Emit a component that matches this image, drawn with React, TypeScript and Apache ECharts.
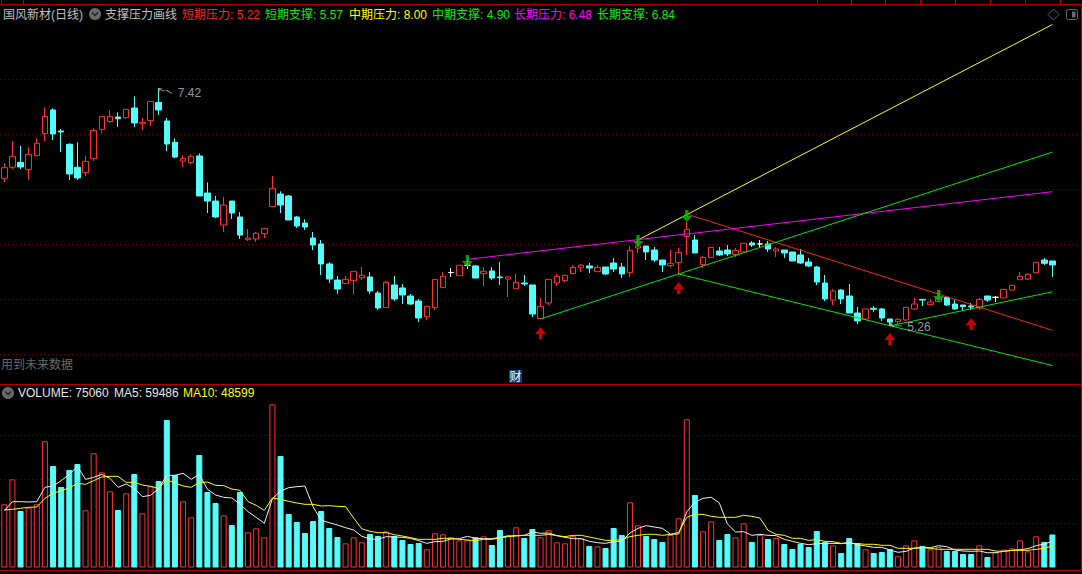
import React, { useEffect, useRef } from "react";
import * as echarts from "echarts";

const SLOT_COUNT = 133;
const categories = Array.from({ length: SLOT_COUNT }, (_, i) => String(i + 1));

const opens = [
  6.602,6.702,6.747,6.680,6.808,7.008,7.223,7.032,6.911,6.702,
  6.653,6.780,7.047,7.117,7.159,7.153,7.241,7.098,7.126,7.292,
  7.123,6.929,6.759,6.744,6.805,6.468,6.395,6.177,6.395,6.250,
  6.044,6.050,6.098,6.344,6.459,6.441,6.250,6.195,6.059,6.005,
  5.823,5.677,5.644,5.671,5.698,5.705,5.559,5.426,5.632,5.605,
  5.532,5.486,5.344,5.426,5.608,5.745,5.717,5.811,5.805,5.735,
  5.759,5.705,5.686,5.598,5.650,5.632,5.326,5.468,5.650,5.671,
  5.735,5.789,5.805,5.753,5.795,5.832,5.795,5.744,5.968,5.986,
  5.950,5.859,5.808,5.835,6.074,6.041,5.817,5.883,5.941,5.950,
  5.908,5.932,6.014,6.005,6.005,5.941,5.950,5.932,5.905,5.841,
  5.795,5.650,5.495,5.586,5.532,5.377,5.323,5.420,5.414,5.323,
  5.298,5.314,5.414,5.501,5.453,5.480,5.520,5.459,5.450,5.441,
  5.423,5.532,5.520,5.514,5.586,5.680,5.686,5.744,5.859,5.850,
];
const closes = [
  6.698,6.802,6.705,6.820,6.920,7.165,7.005,7.023,6.641,6.605,
  6.756,7.038,7.165,7.165,7.144,7.229,7.105,7.111,7.301,7.223,
  6.914,6.795,6.783,6.802,6.441,6.395,6.250,6.359,6.286,6.086,
  6.059,6.102,6.147,6.511,6.359,6.223,6.168,6.159,5.995,5.823,
  5.686,5.595,5.683,5.756,5.720,5.577,5.423,5.656,5.505,5.541,
  5.459,5.332,5.438,5.683,5.711,5.745,5.811,5.811,5.695,5.756,
  5.695,5.698,5.705,5.656,5.641,5.368,5.438,5.683,5.711,5.720,
  5.792,5.811,5.786,5.792,5.732,5.777,5.732,5.947,5.986,5.932,
  5.859,5.814,5.829,5.929,6.138,5.923,5.883,5.974,5.905,5.914,
  5.947,6.011,5.995,6.005,5.959,5.959,5.923,5.850,5.832,5.805,
  5.659,5.505,5.577,5.505,5.377,5.305,5.414,5.411,5.332,5.295,
  5.320,5.429,5.459,5.495,5.477,5.511,5.450,5.414,5.435,5.432,
  5.501,5.495,5.520,5.592,5.629,5.711,5.729,5.838,5.829,5.814,
];
const lows = [
  6.568,6.686,6.686,6.586,6.808,6.941,6.950,6.841,6.586,6.586,
  6.623,6.759,7.011,7.105,7.068,7.144,7.068,7.041,7.077,7.177,
  6.850,6.786,6.705,6.732,6.441,6.286,6.241,6.114,6.232,6.050,
  6.032,6.023,6.059,6.344,6.286,6.223,6.150,6.132,5.950,5.723,
  5.650,5.550,5.644,5.550,5.677,5.550,5.405,5.426,5.486,5.459,
  5.450,5.295,5.314,5.405,5.608,5.705,5.717,5.777,5.695,5.623,
  5.677,5.632,5.523,5.598,5.623,5.341,5.326,5.450,5.623,5.659,
  5.735,5.750,5.741,5.753,5.723,5.750,5.695,5.705,5.923,5.859,
  5.841,5.750,5.795,5.732,5.905,5.923,5.789,5.883,5.895,5.895,
  5.886,5.932,5.977,5.968,5.932,5.886,5.877,5.850,5.823,5.795,
  5.632,5.486,5.450,5.459,5.377,5.277,5.323,5.386,5.305,5.26,
  5.277,5.305,5.405,5.441,5.450,5.480,5.441,5.405,5.395,5.405,
  5.405,5.477,5.477,5.514,5.586,5.680,5.677,5.744,5.814,5.705,
];
const highs = [
  6.738,6.941,6.895,6.886,6.965,7.247,7.238,7.050,6.920,6.929,
  6.805,7.056,7.165,7.220,7.202,7.229,7.347,7.150,7.301,7.42,
  7.150,6.965,6.811,6.820,6.829,6.565,6.441,6.432,6.395,6.295,
  6.141,6.114,6.150,6.623,6.483,6.450,6.259,6.229,6.114,6.041,
  5.838,5.714,5.714,5.756,5.795,5.750,5.577,5.668,5.714,5.641,
  5.550,5.505,5.441,5.686,5.750,5.786,5.811,5.859,5.814,5.795,
  5.795,5.841,5.714,5.732,5.723,5.632,5.514,5.686,5.732,5.723,
  5.814,5.823,5.832,5.814,5.795,5.877,5.832,5.986,6.041,5.986,
  5.977,5.859,5.950,5.968,6.205,6.086,5.895,5.977,5.977,5.995,
  5.968,6.014,6.032,6.041,6.032,5.977,5.950,5.932,5.959,5.877,
  5.805,5.723,5.595,5.595,5.641,5.432,5.414,5.441,5.423,5.323,
  5.332,5.432,5.514,5.505,5.505,5.541,5.523,5.495,5.450,5.468,
  5.514,5.532,5.532,5.592,5.632,5.750,5.738,5.841,5.877,5.850,
];
const volumes = [
  143600,200400,128400,136000,143600,286800,230700,183000,221600,235200,
  129900,259500,216300,173100,130700,168600,212500,123100,184500,196600,
  335200,210200,150400,114000,255700,171600,146600,118600,96600,171600,
  79900,89000,68600,370800,253400,121600,103400,78400,105700,128400,
  89800,69300,54900,68600,57200,76100,71600,82200,71600,62500,
  53400,55700,41300,77700,75400,68600,61700,62500,68600,70800,
  51100,85200,73100,91300,67000,87500,68600,84500,57200,54900,
  71600,66300,48900,48100,44300,89800,73900,148100,95800,71600,
  64800,58000,73900,111700,336800,164800,82200,104900,62500,76100,
  68600,100400,58000,73900,64800,67000,53400,42000,53400,46600,
  83000,58000,50400,33000,67000,55700,41300,33000,35200,42000,
  25400,50400,61700,48900,41300,46600,37500,37500,30700,30700,
  50400,23900,34500,40500,43600,61700,36700,70800,58000,75060,
];
const ma5 = [
  129200,149600,149600,148900,149600,182200,185200,197400,211700,229900,
  200400,204900,211700,202700,182200,189800,179900,161000,164000,179200,
  209500,209500,214000,200400,211700,177700,164800,159500,158000,144300,
  126900,114000,100400,156400,173900,181400,183700,185200,138300,107200,
  101900,96600,90500,85200,71000,64800,64000,70100,69300,68600,
  66300,61000,54900,58700,59500,64800,65500,70800,66300,65500,
  65500,68600,71600,72400,73100,80700,77700,78400,72400,68600,
  65500,65500,59500,56400,54900,58700,59500,78400,89000,95100,
  92000,89000,75400,76100,126900,148100,157200,159500,147000,98900,
  80700,81400,73100,75400,73100,72400,64000,59500,54900,51900,
  54200,54900,54900,54200,57200,51900,48900,45800,45800,39800,
  34500,36700,44300,45100,45100,49600,47300,39800,37500,36700,
  37500,33700,33700,36700,39000,40500,42800,49600,53400,59486,
];
const ma10 = [
  130700,132200,134500,136800,137500,157200,168600,174600,180700,191300,
  189000,197400,205700,207200,207200,193600,193600,187500,184500,179900,
  199600,192000,185200,182200,192800,194300,186800,186000,178400,175400,
  149600,141300,129900,158000,154900,150400,146600,143600,143600,139800,
  140500,139000,138300,112500,88000,82200,79200,79200,74600,71600,
  67800,64000,64000,64000,66300,66300,64000,62500,61000,64000,
  64000,67000,70100,71600,73100,73100,73100,75400,72400,70100,
  73100,73100,69300,65500,61700,61700,63300,70100,73100,75400,
  75400,73100,75400,79900,114000,120800,120800,116300,114000,114000,
  114000,118600,116300,112500,84500,75400,73100,66300,66300,61700,
  63300,59500,58700,54900,54900,54200,52700,52700,50400,50400,
  43600,43600,43600,45100,43600,41300,41300,41300,41300,41300,
  41300,41300,37500,36700,39000,39000,39000,41300,43600,48599,
];

// Trend lines: [candle index, price] at each end.
const shortPressure = [[84, 6.277], [129, 5.22]];
const shortSupport = [[109, 5.26], [129, 5.57]];
const midPressure = [[78, 6.041], [129, 8.0]];
const midSupport = [[83, 5.732], [129, 4.9]];
const longPressure = [[57, 5.865], [129, 6.48]];
const longSupport = [[66, 5.323], [129, 6.84]];

const buySignals = [[66, 5.195], [83, 5.605], [109, 5.141], [119, 5.277]];
const sellSignals = [[57, 5.85], [78, 6.032], [84, 6.259], [115, 5.532]];

const headerItems = [
  { text: "国风新材(日线)", x: 3, color: "#C0C0C0" },
  { text: "支撑压力画线", x: 105, color: "#C0C0C0" },
  { text: "短期压力: 5.22", x: 182, color: "#FF2020" },
  { text: "短期支撑: 5.57", x: 265, color: "#00F000" },
  { text: "中期压力: 8.00", x: 349, color: "#FFFF00" },
  { text: "中期支撑: 4.90", x: 432, color: "#00F000" },
  { text: "长期压力: 6.48", x: 514, color: "#FF00FF" },
  { text: "长期支撑: 6.84", x: 597, color: "#00F000" },
];
const volumeHeaderItems = [
  { text: "VOLUME: 75060", x: 18, color: "#E8E8E8" },
  { text: "MA5: 59486", x: 114, color: "#E8E8E8" },
  { text: "MA10: 48599", x: 183, color: "#FFFF00" },
];
const tabTickXs = [1, 23, 817, 851, 885, 920, 955, 990, 1025, 1060];

const RED = "#FF3232";
const CYAN = "#54FCFC";
const GREEN = "#00E800";
const BORDER = "#B40000";
const FONT = '"Liberation Sans","Noto Sans CJK SC",sans-serif';

const UP_ARROW = "path://M5 0L10 7L6.5 7L6.5 12L3.5 12L3.5 7L0 7Z";
const DOWN_ARROW = "path://M3.5 0L6.5 0L6.5 6L10 6L5 12L0 6L3.5 6Z";
const HIGH_POINTER = "path://M0 0L0 4M0 0L4 0M0 0L5 3M5 2L8 2L13 5";
const LOW_POINTER = "path://M0 3L0 0L3 0M0 0L4 4M5 3L12 3";

function trendLine(name: string, data: number[][], color: string) {
  return {
    name,
    type: "line",
    data,
    xAxisIndex: 0,
    yAxisIndex: 0,
    clip: false,
    showSymbol: false,
    symbol: "none",
    z: 4,
    lineStyle: { color, width: 1 },
  };
}

function maLine(name: string, data: number[], color: string) {
  return {
    name,
    type: "line",
    data,
    xAxisIndex: 1,
    yAxisIndex: 1,
    showSymbol: false,
    symbol: "none",
    z: 4,
    lineStyle: { color, width: 1 },
  };
}

function headerText(item: { text: string; x: number; color: string }, y: number) {
  return {
    type: "text",
    x: item.x,
    y,
    z: 20,
    style: {
      text: item.text,
      fill: item.color,
      font: `12px ${FONT}`,
      textAlign: "left",
      textVerticalAlign: "middle",
    },
  };
}

function collapseBadge(cx: number, cy: number) {
  return [
    { type: "circle", z: 20, shape: { cx, cy, r: 6 }, style: { fill: "#6A6A6A" } },
    {
      type: "polyline",
      z: 21,
      shape: { points: [[cx - 3, cy - 1.5], [cx, cy + 1.5], [cx + 3, cy - 1.5]] },
      style: { stroke: "#222222", lineWidth: 1.5, fill: "none" },
    },
  ];
}

function redLine(x1: number, y1: number, x2: number, y2: number) {
  return {
    type: "line",
    z: 10,
    shape: { x1, y1, x2, y2 },
    style: { stroke: BORDER, lineWidth: 1 },
  };
}

export default function App() {
  const ref = useRef<HTMLDivElement>(null);

  useEffect(() => {
    document.body.style.margin = "0";
    document.body.style.background = "#000";
    const chart = echarts.init(ref.current!, undefined, { renderer: "svg" });

    const candleData = opens.map((o, i) => [o, closes[i], lows[i], highs[i]]);
    const volumeData = volumes.map((v, i) => {
      const up = closes[i] >= opens[i];
      return {
        value: v,
        itemStyle: {
          color: up ? "#000000" : CYAN,
          borderColor: up ? RED : CYAN,
          borderWidth: 1,
        },
      };
    });
    const dots = { color: "#7A0A0A", type: [1, 3], width: 1 };

    const option: any = {
      animation: false,
      backgroundColor: "#000000",
      tooltip: { show: false },
      axisPointer: { show: false },
      grid: [
        { left: 0.25, width: 1080.6, top: 24.5, height: 330, containLabel: false },
        { left: 0.25, width: 1080.6, top: 391.5, height: 176, containLabel: false },
      ],
      xAxis: [
        { type: "category", gridIndex: 0, data: categories, show: false, boundaryGap: true },
        { type: "category", gridIndex: 1, data: categories, show: false, boundaryGap: true },
      ],
      yAxis: [
        {
          type: "value",
          gridIndex: 0,
          min: 5,
          max: 8,
          interval: 0.5,
          scale: true,
          axisLabel: { show: false },
          axisLine: { show: false },
          axisTick: { show: false },
          splitLine: { show: true, showMaxLine: false, lineStyle: dots },
        },
        {
          type: "value",
          gridIndex: 1,
          min: 0,
          max: 400000,
          interval: 100000,
          axisLabel: { show: false },
          axisLine: { show: false },
          axisTick: { show: false },
          splitLine: { show: true, showMinLine: false, showMaxLine: false, lineStyle: dots },
        },
      ],
      series: [
        {
          name: "K线",
          type: "candlestick",
          xAxisIndex: 0,
          yAxisIndex: 0,
          data: candleData,
          barWidth: 6,
          z: 3,
          itemStyle: {
            color: "#000000",
            color0: CYAN,
            borderColor: RED,
            borderColor0: CYAN,
            borderColorDoji: "#FFFFFF",
            borderWidth: 1,
          },
        },
        trendLine("中期压力", midPressure, "#FFFF00"),
        trendLine("短期压力", shortPressure, "#FF2020"),
        trendLine("长期压力", longPressure, "#FF00FF"),
        trendLine("长期支撑", longSupport, GREEN),
        trendLine("中期支撑", midSupport, GREEN),
        trendLine("短期支撑", shortSupport, GREEN),
        {
          name: "买入",
          type: "scatter",
          xAxisIndex: 0,
          yAxisIndex: 0,
          data: buySignals,
          symbol: UP_ARROW,
          symbolSize: [11, 12],
          itemStyle: { color: "#FF0000" },
          z: 6,
        },
        {
          name: "卖出",
          type: "scatter",
          xAxisIndex: 0,
          yAxisIndex: 0,
          data: sellSignals,
          symbol: DOWN_ARROW,
          symbolSize: [11, 12],
          itemStyle: { color: "#00C800" },
          z: 6,
        },
        {
          name: "极值",
          type: "scatter",
          xAxisIndex: 0,
          yAxisIndex: 0,
          z: 7,
          itemStyle: { color: "none", borderColor: "#C0C0C0", borderWidth: 1 },
          label: {
            show: true,
            position: "right",
            color: "#C0C0C0",
            fontSize: 12,
            fontFamily: FONT,
            formatter: (p: any) => p.value[1].toFixed(2),
          },
          data: [
            {
              value: [19, 7.42],
              symbol: HIGH_POINTER,
              symbolSize: [13, 5],
              symbolOffset: [6.5, 2.5],
              label: { offset: [0, 2.5], distance: 2 },
            },
            {
              value: [109, 5.26],
              symbol: LOW_POINTER,
              symbolSize: [12, 4],
              symbolOffset: [6, -1],
              label: { offset: [0, 2], distance: 1 },
            },
          ],
        },
        {
          name: "VOLUME",
          type: "bar",
          xAxisIndex: 1,
          yAxisIndex: 1,
          barWidth: 6,
          data: volumeData,
          z: 3,
        },
        maLine("MA5", ma5, "#F0F0F0"),
        maLine("MA10", ma10, "#FFFF00"),
      ],
      graphic: [
        ...tabTickXs.map((x) => redLine(x + 0.5, 0, x + 0.5, 4)),
        redLine(0, 4.5, 1082, 4.5),
        redLine(0, 384.5, 1082, 384.5),
        redLine(0, 570.5, 1082, 570.5),
        redLine(1081.5, 4, 1081.5, 571),
        ...headerItems.map((h) => headerText(h, 14.5)),
        ...collapseBadge(95, 14),
        ...volumeHeaderItems.map((h) => headerText(h, 393)),
        ...collapseBadge(8, 393),
        {
          type: "text",
          x: 1,
          y: 364.5,
          z: 20,
          style: {
            text: "用到未来数据",
            fill: "#6A6A6A",
            font: `12px ${FONT}`,
            textVerticalAlign: "middle",
          },
        },
        { type: "rect", z: 20, shape: { x: 509, y: 370, width: 13, height: 13 }, style: { fill: "#0F3F6F" } },
        {
          type: "text",
          x: 515.5,
          y: 376.5,
          z: 21,
          style: {
            text: "财",
            fill: "#FFFFFF",
            font: `12px ${FONT}`,
            textAlign: "center",
            textVerticalAlign: "middle",
          },
        },
        {
          type: "polygon",
          z: 20,
          shape: { points: [[1053.5, 9], [1059, 14.5], [1053.5, 20], [1048, 14.5]] },
          style: { fill: "none", stroke: "#5A5A5A", lineWidth: 1 },
        },
        {
          type: "rect",
          z: 20,
          shape: { x: 1066.5, y: 9.5, width: 11, height: 10, r: 2 },
          style: { fill: "none", stroke: "#6A6A6A", lineWidth: 1 },
        },
        { type: "rect", z: 20, shape: { x: 1072, y: 11.5, width: 3.5, height: 6 }, style: { fill: "#6A6A6A" } },
      ],
    };

    chart.setOption(option);
    return () => chart.dispose();
  }, []);

  return (
    <div
      ref={ref}
      style={{ position: "fixed", left: 0, top: 0, width: 1082, height: 574, background: "#000" }}
    />
  );
}
